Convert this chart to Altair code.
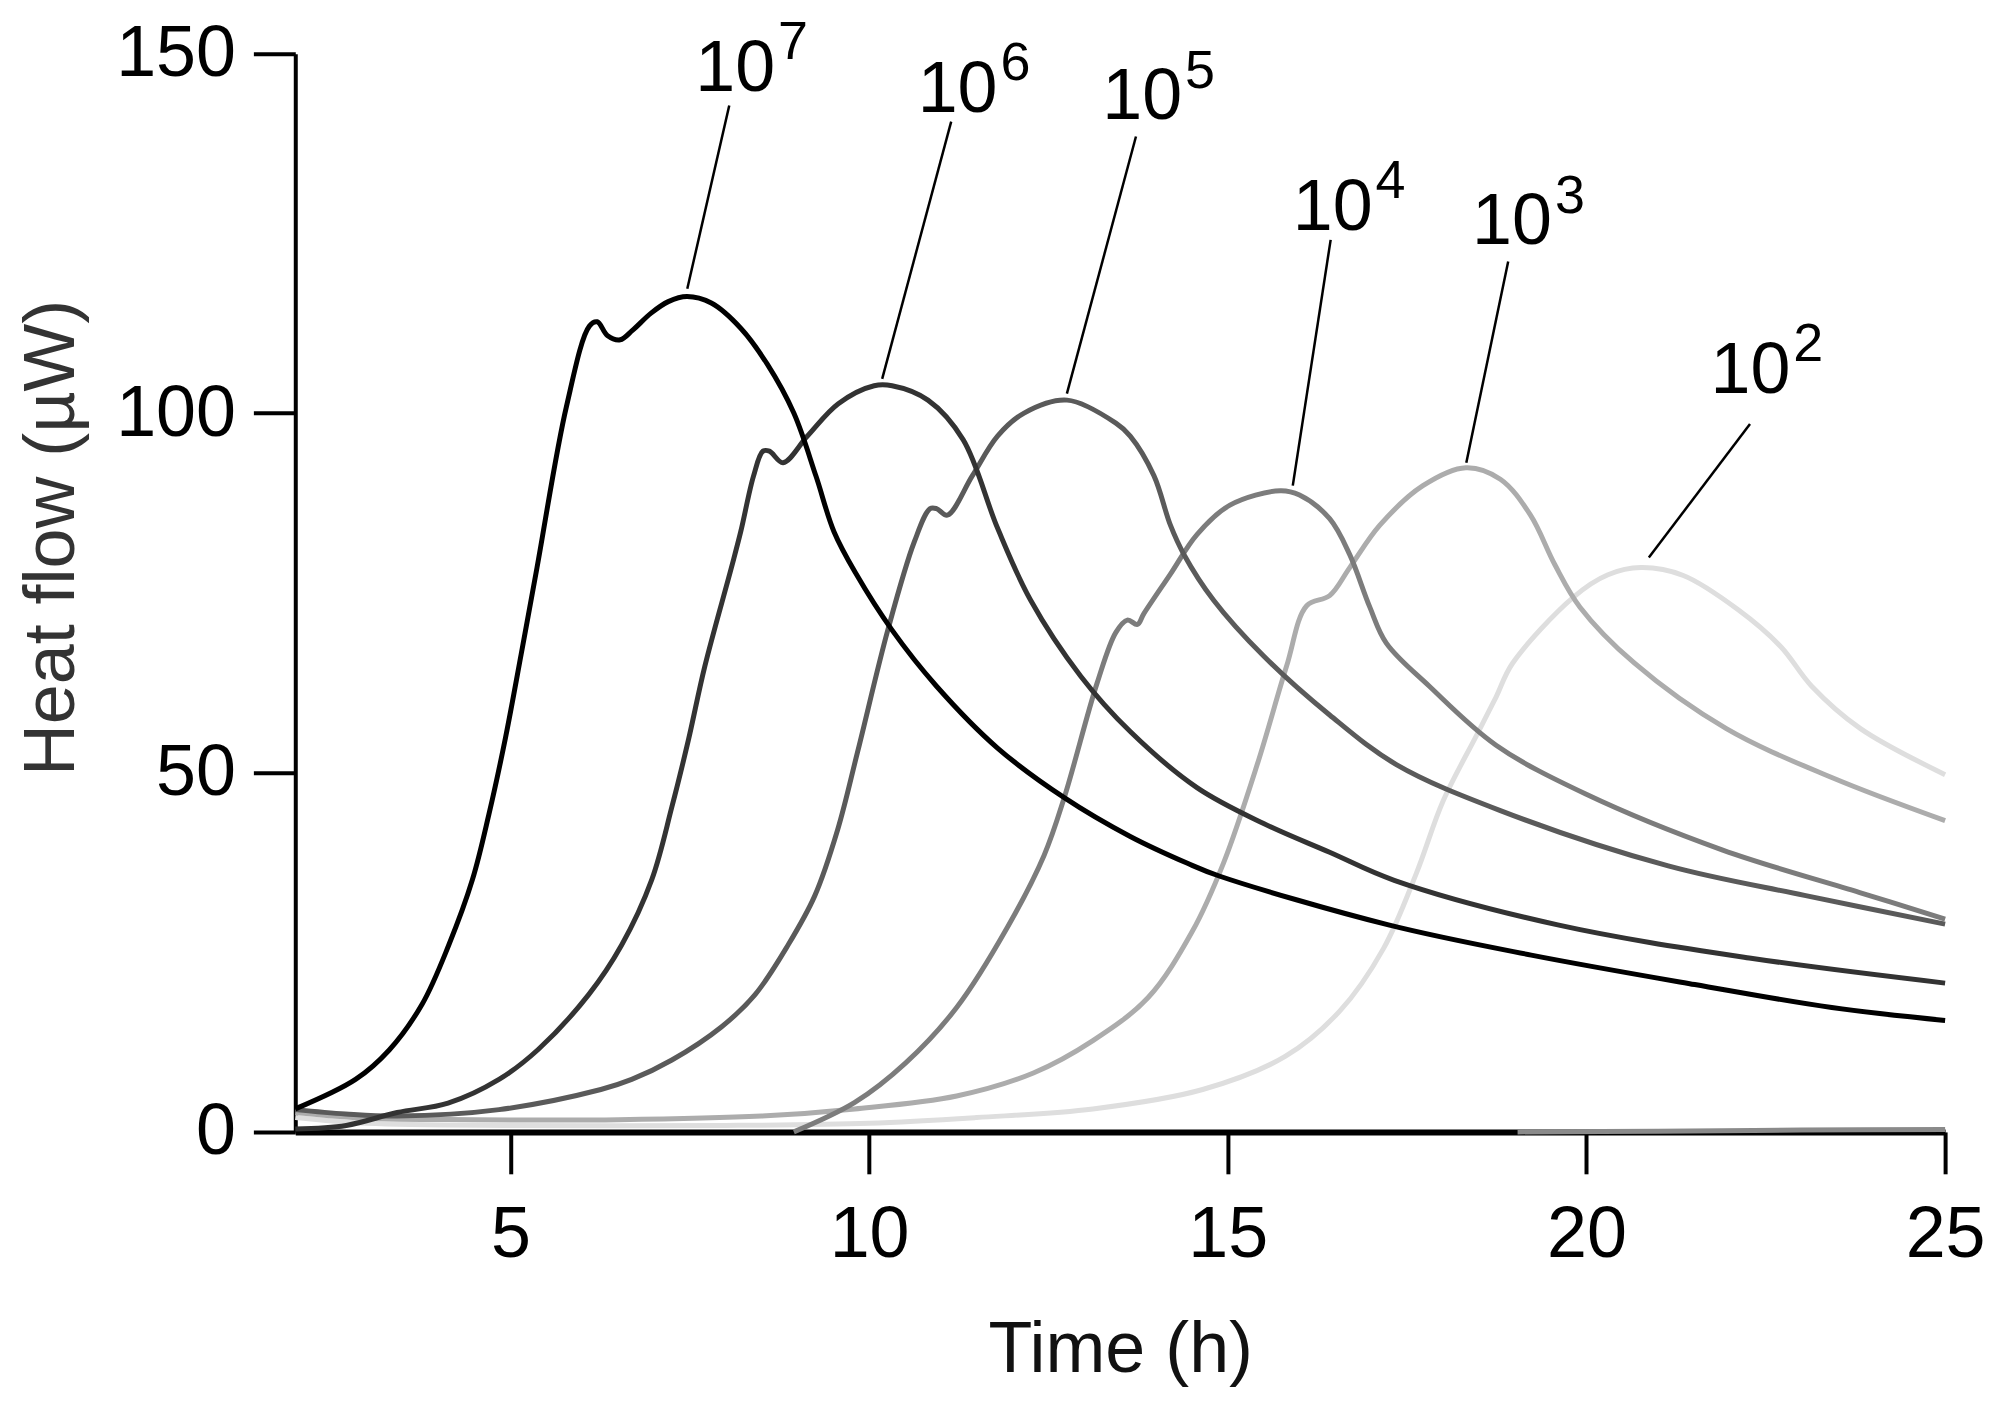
import altair as alt
import pandas as pd

# ---------------- data ----------------
series_names = ["10^7", "10^6", "10^5", "10^4", "10^3", "10^2", "blank"]
series_colors = ["#000000", "#333333", "#5a5a5a", "#7c7c7c", "#acacac", "#dedede", "#8a8a8a"]

x_1e7 = [2.0, 2.84, 3.31, 3.77, 4.14, 4.47, 4.70, 4.93, 5.15, 5.37, 5.78, 6.10, 6.21, 6.35, 6.53, 6.70,
         6.96, 7.20, 7.46, 7.80, 8.21, 8.58, 8.95, 9.26, 9.51, 9.82, 10.32, 10.94, 11.79, 12.72, 13.64,
         14.43, 14.88, 17.24, 19.23, 21.51, 23.42, 25.0]
y_1e7 = [3.2, 7.3, 11.4, 17.8, 26.0, 35.1, 44.2, 54.8, 66.5, 78.5, 100.9, 112.1, 112.7, 110.8, 110.2, 111.5,
         113.9, 115.5, 116.2, 115.3, 111.8, 106.8, 100.0, 91.2, 83.5, 77.6, 69.8, 62.0, 53.4, 46.5, 41.1,
         37.4, 35.6, 28.8, 24.6, 20.5, 17.3, 15.5]

x_1e6 = [2.0, 2.71, 3.42, 4.13, 4.84, 5.39, 6.09, 6.55, 6.97, 7.25, 7.48, 7.71, 8.08, 8.21, 8.39, 8.52,
         8.61, 8.80, 9.14, 9.57, 10.07, 10.32, 10.82, 11.31, 11.79, 12.25, 12.95, 13.64, 14.57, 15.50,
         16.42, 17.32, 19.60, 22.27, 25.0]
y_1e6 = [0.4, 0.9, 2.7, 4.0, 7.3, 11.5, 19.1, 26.0, 35.1, 45.2, 54.5, 64.8, 78.5, 83.5, 91.3, 94.7,
         94.7, 93.1, 96.8, 101.3, 103.8, 103.8, 101.8, 96.3, 84.0, 74.0, 63.4, 55.7, 47.9, 42.9,
         38.9, 35.0, 28.8, 24.2, 20.7]

x_1e5 = [2.0, 2.7, 3.42, 4.84, 6.26, 6.69, 7.25, 7.94, 8.41, 8.87, 9.24, 9.56, 9.84, 10.26, 10.63,
         10.85, 10.94, 11.09, 11.44, 11.79, 12.16, 12.76, 13.44, 13.64, 13.97, 14.20, 14.39, 14.80,
         15.50, 16.42, 17.35, 18.80, 21.14, 23.04, 25.0]
y_1e5 = [3.1, 2.5, 2.2, 3.1, 5.9, 7.3, 10.0, 14.6, 19.1, 26.0, 32.8, 42.0, 52.9, 69.8, 82.1,
         86.7, 86.7, 85.8, 91.3, 96.8, 100.0, 101.8, 98.6, 96.8, 91.3, 84.4, 80.3, 74.0,
         66.2, 58.0, 51.1, 44.7, 37.0, 32.9, 28.9]

x_1e4 = [8.95, 9.80, 10.51, 11.22, 11.93, 12.44, 12.72, 13.18, 13.44, 13.60, 13.74, 13.83, 14.20,
         14.57, 15.03, 15.73, 16.00, 16.42, 16.70, 16.98, 17.21, 17.81, 18.74, 19.99, 21.90, 23.81, 25.0]
y_1e4 = [0.0, 4.1, 9.6, 17.3, 28.5, 38.5, 46.5, 62.5, 69.5, 71.2, 70.6, 72.1, 77.6,
         83.1, 87.2, 89.2, 88.6, 85.3, 80.3, 73.0, 68.0, 62.0, 53.8, 47.0, 39.2, 33.3, 29.6]

x_1e3 = [2.0, 3.0, 4.5, 6.5, 8.5, 9.8, 11.22, 12.29, 13.12, 13.89, 14.50, 14.94, 15.41, 15.82, 16.10,
         16.42, 16.70, 17.12, 17.72, 18.32, 18.80, 19.22, 19.56, 19.91, 20.67, 21.95, 23.42, 25.0]
y_1e3 = [2.7, 1.9, 1.7, 1.7, 2.2, 3.2, 5.0, 8.2, 12.7, 18.7, 27.8, 37.4, 51.1, 64.8, 73.2,
         74.6, 78.5, 84.4, 89.9, 92.4, 90.8, 85.8, 78.9, 73.0, 65.2, 56.1, 49.3, 43.3]

x_1e2 = [2.0, 3.0, 5.0, 8.0, 10.0, 11.5, 13.12, 14.65, 15.80, 16.56, 17.17, 17.63, 18.00, 18.47,
         18.74, 18.97, 19.82, 20.30, 20.76, 21.35, 22.12, 22.71, 23.14, 23.82, 25.0]
y_1e2 = [2.0, 1.2, 0.9, 0.9, 1.2, 2.0, 3.2, 5.9, 10.5, 16.8, 25.5, 36.0, 46.0, 55.2,
         60.5, 65.2, 74.4, 77.5, 78.5, 77.4, 72.6, 67.5, 62.0, 56.1, 49.7]

x_blank = [19.04, 21.0, 23.0, 25.0]
y_blank = [0.0, 0.1, 0.25, 0.35]

# curve labels: base text, exponent, anchor (data units)
label_base = ["10", "10", "10", "10", "10", "10"]
label_exp = ["7", "6", "5", "4", "3", "2"]
label_x = [7.576, 10.677, 13.25, 15.906, 18.406, 21.73]
label_y = [144.87, 141.95, 140.84, 125.53, 123.45, 102.86]

# leader lines (data units)
lead_x1 = [8.05, 11.144, 13.72, 16.434, 18.909, 22.28]
lead_y1 = [142.78, 140.55, 138.47, 124.1, 121.1, 98.48]
lead_x2 = [7.465, 10.182, 12.757, 15.906, 18.325, 20.87]
lead_y2 = [117.3, 104.75, 102.7, 89.9, 93.1, 79.9]

x_ticks = [5, 10, 15, 20, 25]
y_ticks = [0, 50, 100, 150]

# ---------------- build tables ----------------
curves = [
    ("10^2", x_1e2, y_1e2), ("10^3", x_1e3, y_1e3), ("10^4", x_1e4, y_1e4),
    ("10^5", x_1e5, y_1e5), ("10^6", x_1e6, y_1e6), ("10^7", x_1e7, y_1e7),
    ("blank", x_blank, y_blank),
]
rows = []
for name, xs, ys in curves:
    for i, (xv, yv) in enumerate(zip(xs, ys)):
        rows.append({"series": name, "t": xv, "q": yv, "idx": i})
df = pd.DataFrame(rows)

labels = pd.DataFrame({"base": label_base, "exp": label_exp, "t": label_x, "q": label_y})
leads = pd.DataFrame({"t": lead_x1, "q": lead_y1, "t2": lead_x2, "q2": lead_y2})

FONT = "Liberation Sans"

x_scale = alt.Scale(domain=[2, 25], nice=False, zero=False)
y_scale = alt.Scale(domain=[0, 150], nice=False)

x_axis = alt.Axis(
    values=x_ticks, format="d", title="Time (h)", grid=False,
    domainColor="black", domainWidth=6, tickColor="black", tickWidth=4, tickSize=42,
    labelFont=FONT, labelFontSize=72, labelColor="black", labelPadding=26, labelFlush=False,
    titleFont=FONT, titleFontSize=72, titleFontWeight="normal", titleColor="#111111",
    titleY=240, titleBaseline="alphabetic",
)
y_axis = alt.Axis(
    values=y_ticks, format="d", title="Heat flow (µW)", grid=False,
    domainColor="black", domainWidth=4, tickColor="black", tickWidth=4, tickSize=42,
    labelFont=FONT, labelFontSize=72, labelColor="black", labelPadding=18,
    titleFont=FONT, titleFontSize=72, titleFontWeight="normal", titleColor="#333333",
    titleX=-222, titleY=485, titleBaseline="alphabetic", titleAlign="center",
)

lines = alt.Chart(df).mark_line(strokeWidth=5, interpolate="catmull-rom").encode(
    x=alt.X("t:Q", scale=x_scale, axis=x_axis),
    y=alt.Y("q:Q", scale=y_scale, axis=y_axis),
    color=alt.Color("series:N", scale=alt.Scale(domain=series_names, range=series_colors),
                    sort=["10^2", "10^3", "10^4", "10^5", "10^6", "10^7", "blank"], legend=None),
    order=alt.Order("idx:Q"),
)

rules = alt.Chart(leads).mark_rule(color="black", strokeWidth=2.5).encode(
    x=alt.X("t:Q", scale=x_scale), y=alt.Y("q:Q", scale=y_scale), x2="t2:Q", y2="q2:Q"
)

base_text = alt.Chart(labels).mark_text(
    align="left", baseline="alphabetic", font=FONT, fontSize=72, color="black"
).encode(x=alt.X("t:Q", scale=x_scale), y=alt.Y("q:Q", scale=y_scale), text="base:N")

exp_text = alt.Chart(labels).mark_text(
    align="left", baseline="alphabetic", font=FONT, fontSize=54, color="black", dx=83, dy=-32
).encode(x=alt.X("t:Q", scale=x_scale), y=alt.Y("q:Q", scale=y_scale), text="exp:N")

chart = alt.layer(lines, rules, base_text, exp_text).properties(
    width=1654, height=1081,
    padding={"left": 288, "top": 44, "right": 42, "bottom": 263},
    autosize=alt.AutoSizeParams(type="none"),
    background="white",
).configure_view(stroke=None)

chart.save("out.html", embed_options={"renderer": "svg", "actions": False})
